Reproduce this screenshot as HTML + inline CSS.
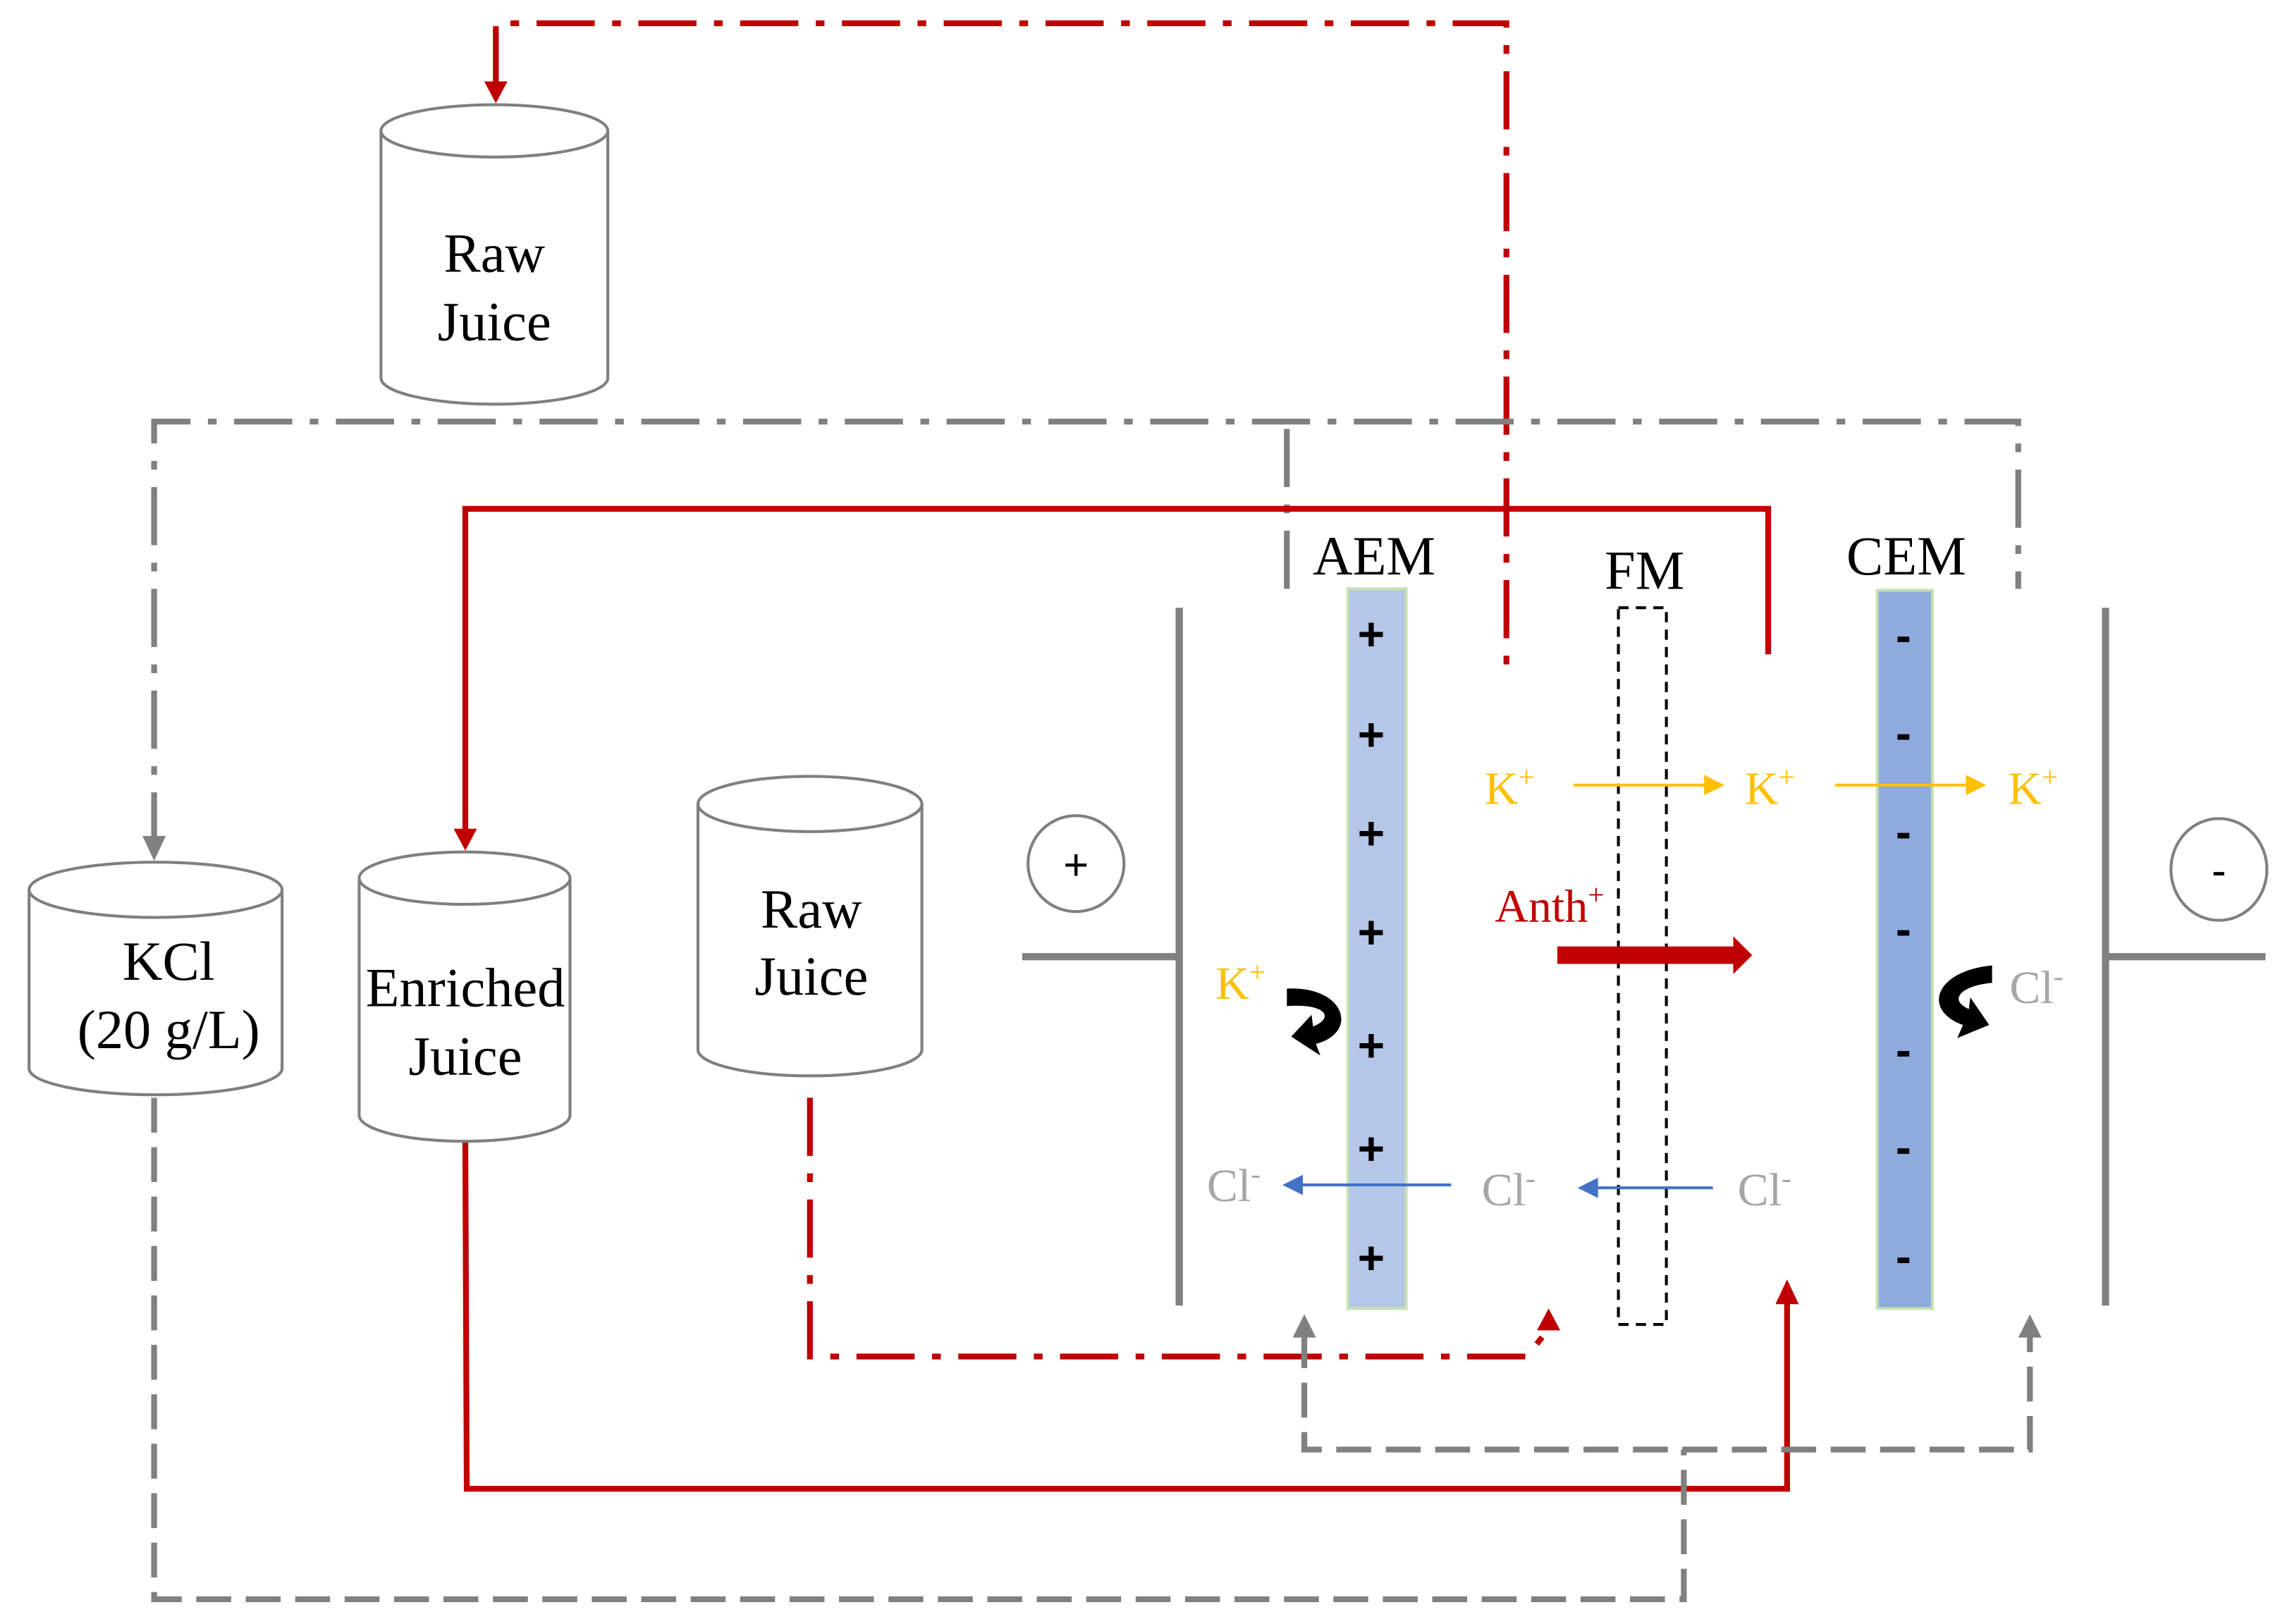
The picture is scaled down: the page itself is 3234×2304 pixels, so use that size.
<!DOCTYPE html>
<html><head><meta charset="utf-8"><style>html,body{margin:0;padding:0;background:#fff}svg{display:block}</style></head>
<body>
<svg width="3234" height="2304" viewBox="0 0 1568 1117" preserveAspectRatio="none" xmlns="http://www.w3.org/2000/svg" font-family="'Liberation Serif', serif">
<g fill="none" stroke-width="4">
<path d="M341,58 V16 H1036 V465" stroke="#c00000" stroke-dasharray="40,12,6,12"/>
<path d="M333,56 L349,56 L341,71z" fill="#c00000" stroke="none"/>
<path d="M106,585 V290 H1388 V405" stroke="#808080" stroke-dasharray="40,12,6,12"/>
<path d="M885,405 V290" stroke="#808080" stroke-dasharray="40,12,6,12"/>
<path d="M98,575 L114,575 L106,592z" fill="#808080" stroke="none"/>
<path d="M320,572 V350 H1216 V450" stroke="#c00000"/>
<path d="M312,570 L328,570 L320,585z" fill="#c00000" stroke="none"/>
<path d="M557,755 V933 H1050 L1062,918" stroke="#c00000" stroke-dasharray="40,12,6,12"/>
<path d="M1057,915 L1073,915 L1065,900z" fill="#c00000" stroke="none"/>
<path d="M320,785 L321,1024 H1229 V895" stroke="#c00000"/>
<path d="M1221,897 L1237,897 L1229,880z" fill="#c00000" stroke="none"/>
<path d="M106,755 V1100 H1158 V997 M897,917 V997 H1396 V917" stroke="#808080" stroke-dasharray="24,10"/>
<path d="M889,920 L905,920 L897,904z M1388,920 L1404,920 L1396,904z" fill="#808080" stroke="none"/>
</g>
<g fill="#fff" stroke="#7f7f7f" stroke-width="2">
<path d="M262,90 V260 A78,18 0 0 0 418,260 V90"/><ellipse cx="340" cy="90" rx="78" ry="18"/>
<path d="M20,612 V735 A87,18 0 0 0 194,735 V612"/><ellipse cx="107" cy="612" rx="87" ry="19"/>
<path d="M247,604 V767 A72.5,18 0 0 0 392,767 V604"/><ellipse cx="319.5" cy="604" rx="72.5" ry="18"/>
<path d="M480,553 V722 A77,18 0 0 0 634,722 V553"/><ellipse cx="557" cy="553" rx="77" ry="19"/>
<circle cx="740" cy="594" r="33"/>
<ellipse cx="1526" cy="598" rx="33" ry="35"/>
</g>
<g font-size="38" text-anchor="middle" fill="#000">
<text x="340" y="187">Raw</text><text x="340" y="234">Juice</text>
<text x="116" y="674">KCl</text><text x="116" y="721">(20 g/L)</text>
<text x="320" y="692">Enriched</text><text x="320" y="739">Juice</text>
<text x="558" y="638">Raw</text><text x="558" y="684">Juice</text>
<text x="945" y="395">AEM</text><text x="1131" y="405">FM</text><text x="1311" y="395">CEM</text>
<text x="740" y="605" font-family="'Liberation Sans',sans-serif" font-size="30">+</text>
<text x="1526" y="609" font-family="'Liberation Sans',sans-serif" font-size="30">-</text>
</g>
<g stroke="#808080" stroke-width="5">
<path d="M811,418 V898 M703,658 H811"/>
<path d="M1448,418 V898 M1448,658 H1558"/>
</g>
<rect x="927" y="405" width="40" height="495" fill="#b4c7e7" stroke="#c5e0b4" stroke-width="2"/>
<rect x="1291" y="406" width="38" height="494" fill="#8faadc" stroke="#c5e0b4" stroke-width="2"/>
<rect x="1113" y="418" width="33" height="493" fill="none" stroke="#000" stroke-width="2" stroke-dasharray="7,5"/>
<g font-family="'Liberation Sans',sans-serif" font-size="32" font-weight="bold" text-anchor="middle" fill="#000">
<text x="943" y="447">+</text><text x="943" y="516">+</text><text x="943" y="584">+</text><text x="943" y="652">+</text><text x="943" y="730">+</text><text x="943" y="801">+</text><text x="943" y="876">+</text>
<text x="1309" y="448">-</text><text x="1309" y="515">-</text><text x="1309" y="583">-</text><text x="1309" y="650">-</text><text x="1309" y="733">-</text><text x="1309" y="800">-</text><text x="1309" y="875">-</text>
</g>
<g font-size="32" fill="#ffc000">
<text x="1021" y="553">K<tspan font-size="20" dy="-12">+</tspan></text>
<text x="1200" y="553">K<tspan font-size="20" dy="-12">+</tspan></text>
<text x="1381" y="553">K<tspan font-size="20" dy="-12">+</tspan></text>
<text x="836" y="687">K<tspan font-size="20" dy="-12">+</tspan></text>
</g>
<g stroke="#ffc000" stroke-width="2"><path d="M1082,540 H1175 M1262,540 H1355"/></g>
<path d="M1172,533 L1186,540 L1172,547z M1352,533 L1366,540 L1352,547z" fill="#ffc000"/>
<text x="1028" y="634" font-size="32" fill="#c00000">Anth<tspan font-size="20" dy="-12">+</tspan></text>
<path d="M1071,651 H1192 V644 L1205,657 L1192,670 V663 H1071z" fill="#c00000"/>
<g font-size="32" fill="#a6a6a6">
<text x="830" y="826">Cl<tspan font-size="20" dy="-12">-</tspan></text>
<text x="1019" y="829">Cl<tspan font-size="20" dy="-12">-</tspan></text>
<text x="1195" y="829">Cl<tspan font-size="20" dy="-12">-</tspan></text>
<text x="1382" y="690">Cl<tspan font-size="20" dy="-12">-</tspan></text>
</g>
<g stroke="#4472c4" stroke-width="2"><path d="M998,815 H893 M1178,817 H1097"/></g>
<path d="M896,808 L882,815 L896,822z M1099,810 L1085,817 L1099,824z" fill="#4472c4"/>
<path d="M885,680 C925,678 935,710 905,718 L908,726 L888,713 L902,698 L903,706 C918,700 912,690 885,692z" fill="#000"/>
<path d="M1370,664 C1330,668 1322,695 1350,705 L1346,714 L1368,705 L1355,686 L1354,694 C1340,688 1348,678 1370,676z" fill="#000"/>
</svg>
</body></html>
